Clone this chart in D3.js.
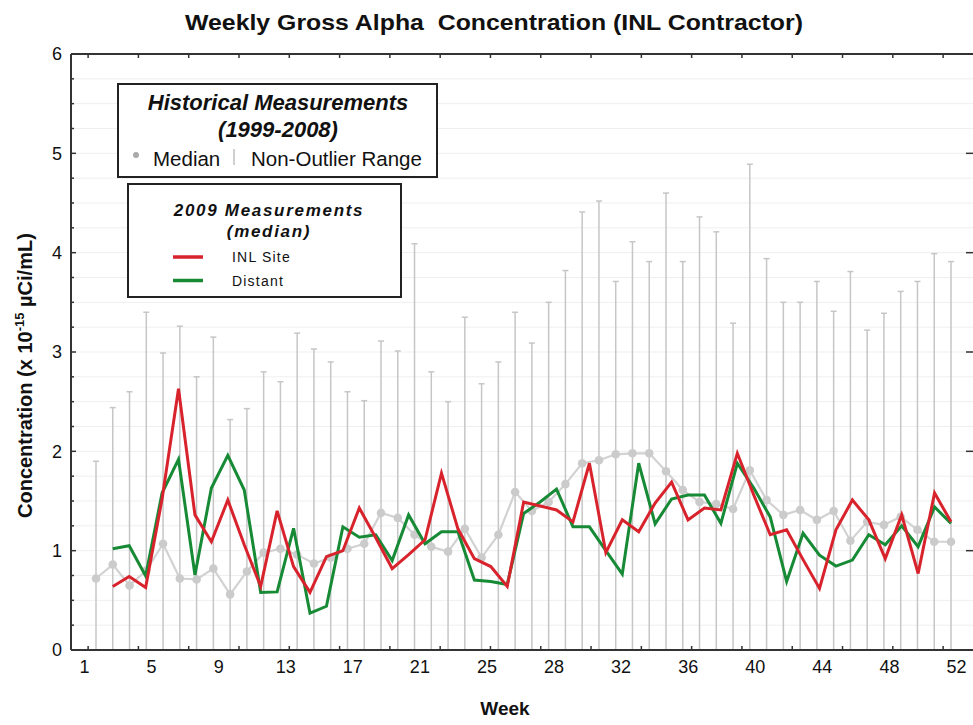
<!DOCTYPE html>
<html><head><meta charset="utf-8">
<script src="https://cdn.jsdelivr.net/npm/d3@7"></script>
<style>
body{margin:0;background:#fff;}
svg text{font-family:Arial,"Liberation Sans",sans-serif;fill:#111;}
</style></head><body>
<svg id="chart" width="973" height="725"></svg>
<script>
// Week numbers of the historical record
const weeks = d3.range(1, 53);

// Historical measurements 1999-2008: weekly median and non-outlier range
const histMedian = [0.72, 0.86, 0.65, 0.80, 1.07, 0.72, 0.71, 0.82, 0.56, 0.79,
  0.98, 1.02, 0.96, 0.87, 0.93, 1.02, 1.07, 1.38, 1.33, 1.16,
  1.04, 0.99, 1.22, 0.93, 1.16, 1.59, 1.40, 1.49, 1.67, 1.88,
  1.91, 1.97, 1.98, 1.98, 1.80, 1.61, 1.49, 1.47, 1.42, 1.81,
  1.51, 1.36, 1.41, 1.31, 1.40, 1.10, 1.29, 1.26, 1.34, 1.21,
  1.09, 1.09];
const histHigh = [1.90, 2.44, 2.60, 3.40, 2.99, 3.26, 2.75, 3.15, 2.32, 2.43,
  2.80, 2.70, 3.19, 3.03, 2.90, 2.60, 2.51, 3.11, 3.01, 4.09,
  2.80, 2.50, 3.35, 2.68, 2.90, 3.40, 3.09, 3.50, 3.82, 4.41,
  4.52, 3.71, 4.11, 3.91, 4.60, 3.91, 4.36, 4.21, 3.29, 4.89,
  3.94, 3.50, 3.50, 3.71, 3.41, 3.81, 3.22, 3.39, 3.61, 3.71,
  3.99, 3.91];
const histLow = [0, 0, 0, 0, 0, 0, 0, 0, 0, 0,
  0, 0, 0, 0, 0, 0, 0, 0, 0, 0,
  0, 0, 0, 0, 0, 0, 0, 0, 0, 0,
  0, 0, 0, 0, 0, 0, 0, 0, 0, 0,
  0, 0, 0, 0, 0, 0, 0, 0, 0, 0,
  0, 0];

// 2009 weekly medians
const inlSite = [0.64, 0.74, 0.63, 1.52, 2.63, 1.36, 1.09, 1.51, 1.06, 0.64,
  1.40, 0.84, 0.58, 0.94, 1.00, 1.43, 1.13, 0.82, 0.96, 1.11,
  1.78, 1.22, 0.92, 0.84, 0.64, 1.49, 1.45, 1.41, 1.29, 1.88,
  0.98, 1.31, 1.19, 1.48, 1.69, 1.31, 1.43, 1.41, 1.98, 1.56,
  1.16, 1.21, 0.91, 0.62, 1.21, 1.51, 1.31, 0.92, 1.36, 0.77,
  1.58, 1.29];
const distant = [1.02, 1.05, 0.745, 1.58, 1.92, 0.755, 1.63, 1.96, 1.61, 0.58,
  0.585, 1.225, 0.37, 0.44, 1.24, 1.135, 1.16, 0.90, 1.36, 1.07,
  1.19, 1.19, 0.705, 0.69, 0.66, 1.375, 1.49, 1.62, 1.24, 1.24,
  1.00, 0.765, 1.88, 1.27, 1.52, 1.56, 1.56, 1.275, 1.88, 1.63,
  1.34, 0.69, 1.175, 0.955, 0.845, 0.905, 1.16, 1.06, 1.25, 1.04,
  1.44, 1.275];

// Axis text
const weekLabels = ["1", "5", "9", "13", "17", "21", "25", "28", "32", "36", "40", "44", "48", "52"];
const yTicks = [0, 1, 2, 3, 4, 5, 6];

const svg = d3.select("#chart");
const frame = {left: 71, right: 974, top: 54, bottom: 650};

const x = d3.scaleLinear().domain([1, 52]).range([96, 951]);
const y = d3.scaleLinear().domain([0, 6]).range([frame.bottom, frame.top]);
// the 52 samples of 2009 are spread over the span of weeks 2-52
const x2009 = d3.scaleLinear().domain([1, inlSite.length]).range([x(2), x(52)]);
const labelPos = d3.scalePoint().domain(weekLabels).range([84, 956]);

// faint horizontal grid every 0.25
svg.append("g").selectAll("line")
  .data(d3.range(1, 24).map(k => k * 0.25))
  .join("line")
  .attr("x1", frame.left).attr("x2", frame.right)
  .attr("y1", d => y(d)).attr("y2", d => y(d))
  .attr("stroke", "#efefef").attr("stroke-width", 1);

// non-outlier range whiskers
const whisk = svg.append("g").attr("stroke", "#c6c6c6").attr("stroke-width", 1.5);
whisk.selectAll("line.range").data(weeks).join("line").attr("class", "range")
  .attr("x1", d => x(d)).attr("x2", d => x(d))
  .attr("y1", (d, i) => y(histLow[i])).attr("y2", (d, i) => y(histHigh[i]));
whisk.selectAll("line.cap").data(weeks).join("line").attr("class", "cap")
  .attr("x1", d => x(d) - 3).attr("x2", d => x(d) + 3)
  .attr("y1", (d, i) => y(histHigh[i])).attr("y2", (d, i) => y(histHigh[i]));

// historical median line and points
svg.append("path").datum(histMedian)
  .attr("fill", "none").attr("stroke", "#d2d2d2").attr("stroke-width", 2.2)
  .attr("d", d3.line().x((d, i) => x(weeks[i])).y(d => y(d)));
svg.append("g").selectAll("circle").data(histMedian).join("circle")
  .attr("cx", (d, i) => x(weeks[i])).attr("cy", d => y(d)).attr("r", 4.3)
  .attr("fill", "#cbcbcb");

// 2009 medians
const line2009 = d3.line().x((d, i) => x2009(i + 1)).y(d => y(d));
svg.append("path").datum(distant)
  .attr("fill", "none").attr("stroke", "#178a36").attr("stroke-width", 3)
  .attr("stroke-linejoin", "miter").attr("d", line2009);
svg.append("path").datum(inlSite)
  .attr("fill", "none").attr("stroke", "#d8232d").attr("stroke-width", 3)
  .attr("stroke-linejoin", "miter").attr("d", line2009);

// frame
const axCol = "#333";
svg.append("line").attr("x1", frame.left).attr("x2", frame.left).attr("y1", frame.top).attr("y2", frame.bottom)
  .attr("stroke", axCol).attr("stroke-width", 2);
svg.append("line").attr("x1", frame.left).attr("x2", frame.right).attr("y1", frame.top).attr("y2", frame.top)
  .attr("stroke", axCol).attr("stroke-width", 2);
svg.append("line").attr("x1", frame.left).attr("x2", frame.right).attr("y1", frame.bottom).attr("y2", frame.bottom)
  .attr("stroke", axCol).attr("stroke-width", 2);

// y axis: inward ticks every 0.25, longer at whole numbers
const yMinor = d3.range(0, 25).map(k => k * 0.25);
svg.append("g").selectAll("line").data(yMinor).join("line")
  .attr("x1", frame.left).attr("x2", d => frame.left + (d % 1 === 0 ? 5 : 3))
  .attr("y1", d => y(d)).attr("y2", d => y(d)).attr("stroke", axCol).attr("stroke-width", 1.5);
svg.append("g").selectAll("line").data(yTicks).join("line")
  .attr("x1", 966).attr("x2", frame.right)
  .attr("y1", d => y(d)).attr("y2", d => y(d)).attr("stroke", axCol).attr("stroke-width", 1.5);
svg.append("g").selectAll("text").data(yTicks).join("text")
  .attr("x", 62).attr("y", d => y(d)).attr("dy", "0.36em")
  .attr("text-anchor", "end").attr("font-size", 18).text(d => d);

// x axis: tick marks every three weeks on top and bottom
const xTickVals = d3.range(0, 18).map(k => 0.5 + 3 * k);
svg.append("g").attr("transform", `translate(0,${frame.bottom})`)
  .call(d3.axisBottom(x).tickValues(xTickVals).tickSize(-4).tickFormat(""))
  .call(g => g.select(".domain").remove())
  .call(g => g.selectAll("line").attr("stroke", axCol).attr("stroke-width", 1.5));
svg.append("g").attr("transform", `translate(0,${frame.top})`)
  .call(d3.axisTop(x).tickValues(xTickVals).tickSize(-4).tickFormat(""))
  .call(g => g.select(".domain").remove())
  .call(g => g.selectAll("line").attr("stroke", axCol).attr("stroke-width", 1.5));
svg.append("g").attr("transform", `translate(0,${frame.bottom})`)
  .call(d3.axisBottom(labelPos).tickSize(0).tickPadding(10))
  .call(g => g.select(".domain").remove())
  .call(g => g.selectAll("text").attr("font-size", 18).attr("font-family", "Arial, 'Liberation Sans', sans-serif").attr("fill", "#111"));

// titles
svg.append("text").attr("x", 494).attr("y", 30).attr("text-anchor", "middle")
  .attr("font-size", 22).attr("font-weight", "bold").style("white-space", "pre")
  .attr("textLength", 618).attr("lengthAdjust", "spacingAndGlyphs")
  .text("Weekly Gross Alpha  Concentration (INL Contractor)");
svg.append("text").attr("x", 505).attr("y", 715).attr("text-anchor", "middle")
  .attr("font-size", 19).attr("font-weight", "bold").text("Week");
const yt = svg.append("text").attr("transform", "translate(32,518) rotate(-90)")
  .attr("text-anchor", "start").attr("font-size", 20).attr("font-weight", "bold");
yt.append("tspan").text("Concentration (x 10");
yt.append("tspan").attr("dy", -8).attr("font-size", 13).text("-15");
yt.append("tspan").attr("dy", 8).text(" \u00B5Ci/mL)");

// legend: historical
const lg1 = svg.append("g");
lg1.append("rect").attr("x", 118).attr("y", 84).attr("width", 319).attr("height", 93)
  .attr("fill", "#fff").attr("stroke", "#222").attr("stroke-width", 2);
lg1.append("text").attr("x", 278).attr("y", 110).attr("text-anchor", "middle")
  .attr("font-size", 22).attr("font-weight", "bold").attr("font-style", "italic")
  .text("Historical Measurements");
lg1.append("text").attr("x", 278).attr("y", 137).attr("text-anchor", "middle")
  .attr("font-size", 22).attr("font-weight", "bold").attr("font-style", "italic")
  .text("(1999-2008)");
lg1.append("circle").attr("cx", 136).attr("cy", 155).attr("r", 3).attr("fill", "#aaa");
lg1.append("text").attr("x", 153).attr("y", 166).attr("font-size", 20.5).text("Median");
lg1.append("line").attr("x1", 234).attr("x2", 234).attr("y1", 149).attr("y2", 165)
  .attr("stroke", "#d0d0d0").attr("stroke-width", 2);
lg1.append("text").attr("x", 251).attr("y", 166).attr("font-size", 20.5).text("Non-Outlier Range");

// legend: 2009
const lg2 = svg.append("g");
lg2.append("rect").attr("x", 128).attr("y", 184).attr("width", 273).attr("height", 113)
  .attr("fill", "#fff").attr("stroke", "#222").attr("stroke-width", 2);
lg2.append("text").attr("x", 269).attr("y", 216).attr("text-anchor", "middle")
  .attr("font-size", 17).attr("font-weight", "bold").attr("font-style", "italic")
  .attr("letter-spacing", 1.7).text("2009 Measurements");
lg2.append("text").attr("x", 269).attr("y", 237).attr("text-anchor", "middle")
  .attr("font-size", 17).attr("font-weight", "bold").attr("font-style", "italic")
  .attr("letter-spacing", 1.7).text("(median)");
const series2009 = [["INL Site", "#d8232d"], ["Distant", "#178a36"]];
series2009.forEach(([name, col], i) => {
  const yy = 257 + i * 23.5;
  lg2.append("line").attr("x1", 173).attr("x2", 203).attr("y1", yy).attr("y2", yy)
    .attr("stroke", col).attr("stroke-width", 3.5);
  lg2.append("text").attr("x", 232).attr("y", yy + 5).attr("font-size", 14)
    .attr("letter-spacing", 1.2).text(name);
});
</script>
</body></html>
